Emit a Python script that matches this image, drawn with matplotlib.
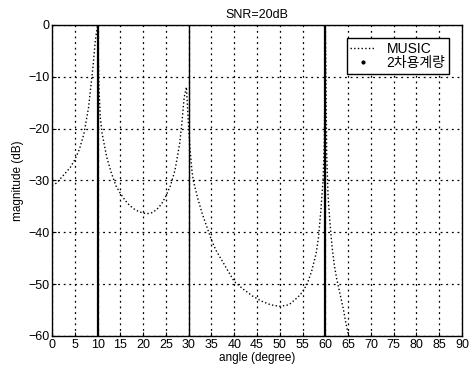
import numpy as np
import matplotlib.pyplot as plt
from matplotlib.lines import Line2D

plt.rcParams['font.family'] = ['Liberation Sans', 'Noto Sans CJK KR', 'DejaVu Sans']

# MUSIC spectrum
music_angle = [0, 1, 2, 3, 4, 5, 6, 7, 8, 8.5, 9, 9.5, 10, 10.3, 10.6, 11, 12, 13,
               14, 15, 16, 17, 18, 19, 20, 21, 22, 23, 24, 25, 26, 27, 28, 28.5,
               29, 29.5, 30, 30.3, 30.7, 31, 32, 33, 34, 35, 36, 37, 38, 39, 40,
               42, 44, 46, 48, 50, 52, 54, 55, 56, 57, 58, 58.5, 59, 59.5, 59.8,
               60, 60.3, 60.6, 61, 61.5, 62, 62.5, 63, 63.5, 64, 64.5, 65, 65.5]
music_db = [-31, -30.5, -29.5, -28.5, -27.5, -26, -24, -21, -16, -12, -8, -3, 0,
            -12, -18, -21, -25.5, -28.5, -31, -32.5, -33.8, -34.8, -35.5, -36,
            -36.3, -36.4, -36.2, -35.6, -34.6, -33, -31, -28, -23, -19, -14, -12,
            -20, -24, -28, -30, -33.5, -36.5, -39, -41.5, -43.5, -45, -46.5, -48,
            -49.5, -51, -52.3, -53.3, -54, -54.3, -54, -52.5, -51.5, -50, -47.5,
            -44, -41, -36, -30, -22, 0, -25, -33, -38, -43, -46.5, -49, -51, -53,
            -55, -57.5, -59.5, -61]

# estimated source angles (second method)
est_angles = [10, 30, 60]
est_width = [1.6, 1.0, 1.6]

fig = plt.figure(figsize=(4.69, 3.72), dpi=100)
ax = fig.add_axes([0.111, 0.097, 0.874, 0.836])

ax.plot(music_angle, music_db, ':', color='black', linewidth=1.0)
for a, w in zip(est_angles, est_width):
    ax.vlines(a, -60, 0, colors='black', linewidth=w)

ax.set_xlim(0, 90)
ax.set_ylim(-60, 0)
ax.set_xticks(np.arange(0, 91, 5))
ax.set_yticks(np.arange(-60, 1, 10))
ax.tick_params(direction='in', length=3, labelsize=9, pad=2)
ax.grid(True, linestyle=(0, (1.5, 3)), color='black', linewidth=0.9)
for s in ax.spines.values():
    s.set_linewidth(1.0)

ax.set_title('SNR=20dB', fontsize=9, pad=5)
ax.set_xlabel('angle (degree)', fontsize=8.5, labelpad=1)
ax.set_ylabel('magnitude (dB)', fontsize=8.5, labelpad=3)

handles = [Line2D([], [], linestyle=':', color='black', linewidth=1.0),
           Line2D([], [], linestyle='none', marker='.', color='black', markersize=4)]
leg = ax.legend(handles, ['MUSIC', '2차용계량'], loc='upper right', fontsize=10,
                fancybox=False, framealpha=1, edgecolor='black',
                borderpad=0.25, labelspacing=0.05, handlelength=1.8,
                handletextpad=0.8, bbox_to_anchor=(0.985, 0.98))
leg.get_frame().set_linewidth(1.0)

fig.savefig('out.png', dpi=100)
